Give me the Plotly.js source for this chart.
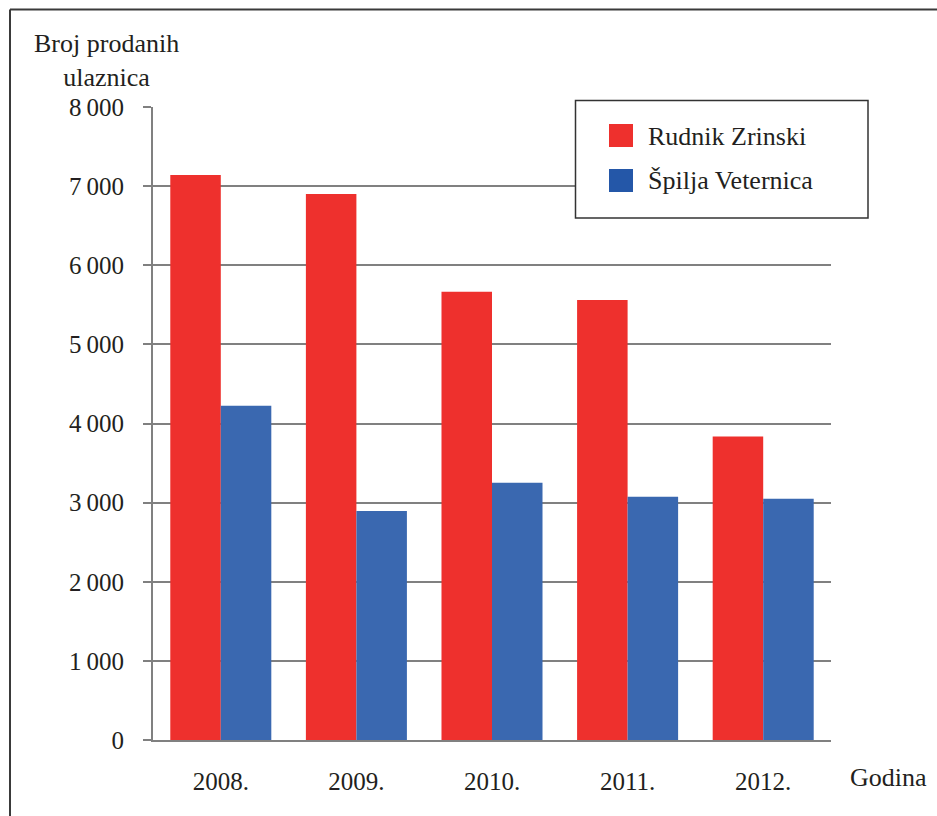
<!DOCTYPE html>
<html>
<head>
<meta charset="utf-8">
<script src="https://cdn.plot.ly/plotly-3.0.1.min.js"></script>
<style>
html,body{margin:0;padding:0;background:#fff;}
#chart{width:937px;height:816px;}
</style>
</head>
<body>
<div id="chart"></div>
<script>
// ---- data ----
const years = ['2008.', '2009.', '2010.', '2011.', '2012.'];
const rudnikZrinski = [7140, 6900, 5665, 5560, 3835];
const spiljaVeternica = [4225, 2895, 3250, 3075, 3050];
const seriesNames = ['Rudnik Zrinski', 'Špilja Veternica'];
const yTickVals = [0, 1000, 2000, 3000, 4000, 5000, 6000, 7000, 8000];
const yTickText = ['0', '1\u2009000', '2\u2009000', '3\u2009000', '4\u2009000', '5\u2009000', '6\u2009000', '7\u2009000', '8\u2009000'];
const yTitle = 'Broj prodanih<br>ulaznica';
const xTitle = 'Godina';

// ---- layout helpers ----
const W = 937, H = 816;
const M = {l: 153, r: 106, t: 107, b: 76};
const PW = W - M.l - M.r, PH = H - M.t - M.b;
const px = x => (x - M.l) / PW;
const py = y => (H - M.b - y) / PH;

const FONT = '"Liberation Serif", "Times New Roman", Times, serif';
const TXT = '#231f20';
const GRID = '#808080';
const RED = '#ee302d';
const BLUE = '#3a68b0';
const BLUE_LEG = '#2457a8';

const traces = [
  {type: 'bar', x: years, y: rudnikZrinski, name: seriesNames[0],
   marker: {color: RED, line: {width: 0}}, showlegend: false},
  {type: 'bar', x: years, y: spiljaVeternica, name: seriesNames[1],
   marker: {color: BLUE, line: {width: 0}}, showlegend: false}
];

const layout = {
  width: W, height: H,
  margin: M,
  paper_bgcolor: '#fff', plot_bgcolor: '#fff',
  font: {family: FONT, size: 24, color: TXT},
  barmode: 'group', bargap: 0.255, bargroupgap: 0,
  showlegend: false,
  xaxis: {
    type: 'category', categoryarray: years, range: [-0.5, 4.5],
    showgrid: false, zeroline: false,
    showline: true, linecolor: GRID, linewidth: 2,
    ticks: '', ticklabelstandoff: 18,
    tickfont: {family: FONT, size: 25, color: TXT}
  },
  yaxis: {
    range: [0, 8000], tickvals: yTickVals, ticktext: yTickText,
    showgrid: true, gridcolor: GRID, gridwidth: 2,
    zeroline: false,
    showline: true, linecolor: GRID, linewidth: 2,
    ticks: 'outside', ticklen: 8, tickwidth: 2, tickcolor: GRID,
    ticklabelstandoff: 14,
    tickfont: {family: FONT, size: 25, color: TXT}
  },
  shapes: [
    {type: 'line', xref: 'paper', yref: 'paper', x0: px(10), x1: px(960), y0: py(9.5), y1: py(9.5),
     line: {color: '#3a3a3a', width: 2}},
    {type: 'line', xref: 'paper', yref: 'paper', x0: px(10), x1: px(10), y0: py(9.5), y1: py(840),
     line: {color: '#3a3a3a', width: 2}},
    {type: 'rect', xref: 'paper', yref: 'paper', layer: 'above',
     x0: px(575.5), x1: px(868), y0: py(218), y1: py(100.5),
     fillcolor: '#fff', line: {color: '#333', width: 1.5}},
    {type: 'rect', xref: 'paper', yref: 'paper', layer: 'above',
     x0: px(609), x1: px(633), y0: py(147), y1: py(124),
     fillcolor: RED, line: {width: 0}},
    {type: 'rect', xref: 'paper', yref: 'paper', layer: 'above',
     x0: px(609), x1: px(633), y0: py(192), y1: py(169),
     fillcolor: BLUE_LEG, line: {width: 0}}
  ],
  annotations: [
    {text: yTitle, xref: 'paper', yref: 'paper', x: px(106), y: py(61),
     xanchor: 'center', yanchor: 'middle', align: 'center', showarrow: false,
     font: {family: FONT, size: 26, color: TXT}},
    {text: xTitle, xref: 'paper', yref: 'paper', x: px(888), y: py(777),
     xanchor: 'center', yanchor: 'middle', showarrow: false,
     font: {family: FONT, size: 26, color: TXT}},
    {text: seriesNames[0], xref: 'paper', yref: 'paper', x: px(646), y: py(136),
     xanchor: 'left', yanchor: 'middle', showarrow: false,
     font: {family: FONT, size: 26, color: TXT}},
    {text: seriesNames[1], xref: 'paper', yref: 'paper', x: px(646), y: py(181),
     xanchor: 'left', yanchor: 'middle', showarrow: false,
     font: {family: FONT, size: 26, color: TXT}}
  ]
};

Plotly.newPlot('chart', traces, layout, {displayModeBar: false, staticPlot: true});
</script>
</body>
</html>
